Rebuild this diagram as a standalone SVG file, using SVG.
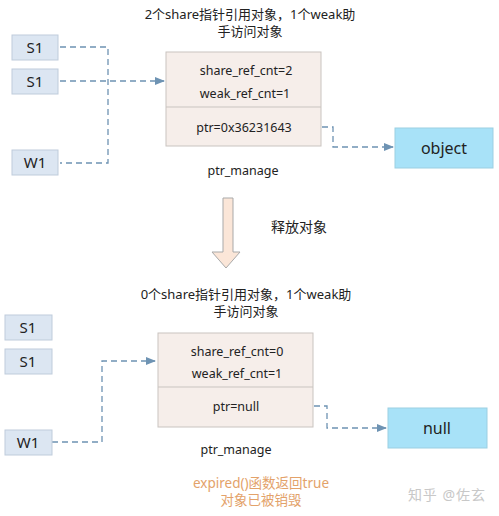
<svg xmlns="http://www.w3.org/2000/svg" width="499" height="516" viewBox="0 0 499 516">
<defs>
<style>
text{font-family:"Noto Sans","Noto Sans CJK SC",sans-serif;fill:#222;}
.ptr{fill:#DCE6F2;stroke:#BFCCDB;stroke-width:1;}
.mgr{fill:#F6EEEA;stroke:#C9C4C0;stroke-width:1;}
.tgt{fill:#A8E2F8;stroke:#9CCFE2;stroke-width:1;}
.dash{fill:none;stroke:#6E93B3;stroke-width:1.3;stroke-dasharray:6,4;}
.t{font-size:13px;text-anchor:middle;}
.c{font-size:12.5px;text-anchor:middle;}
.n{font-size:15px;text-anchor:middle;}
.o{font-size:13.5px;text-anchor:middle;fill:#E3A26A;}
</style>
<marker id="ah" markerWidth="10" markerHeight="8" refX="9" refY="4" orient="auto" markerUnits="userSpaceOnUse">
<path d="M0,0 L10,4 L0,8 Z" fill="#6E93B3"/>
</marker>
</defs>
<rect width="499" height="516" fill="#fff"/>

<text class="t" x="250" y="19">2个share指针引用对象，1个weak助</text>
<text class="t" x="250" y="36">手访问对象</text>

<g id="connectors-top">
<path class="dash" d="M60,47 H108 V163 H60"/>
<path class="dash" d="M60,81 H164" marker-end="url(#ah)"/>
<path class="dash" d="M322,127 H333 V147 H393" marker-end="url(#ah)"/>
</g>

<g id="s1a"><rect class="ptr" x="12" y="35" width="46" height="25"/><text class="n" x="35" y="53">S1</text></g>
<g id="s1b"><rect class="ptr" x="12" y="69" width="46" height="25"/><text class="n" x="35" y="87">S1</text></g>
<g id="w1"><rect class="ptr" x="12" y="150" width="46" height="25"/><text class="n" x="35" y="168">W1</text></g>

<g id="mgr-top">
<rect class="mgr" x="166" y="52" width="155" height="94"/>
<line x1="166" y1="107" x2="321" y2="107" stroke="#C9C4C0"/>
<text class="c" x="246" y="75">share_ref_cnt=2</text>
<text class="c" x="245" y="98">weak_ref_cnt=1</text>
<text class="c" x="244" y="132">ptr=0x36231643</text>
<text class="c" x="243" y="175">ptr_manage</text>
</g>

<g id="object">
<rect class="tgt" x="395" y="128" width="98" height="40"/>
<text x="444" y="154" font-size="16" text-anchor="middle">object</text>
</g>

<g id="release-arrow">
<path d="M223,198 H233 V252 H240 L226,268 L212,252 H223 Z" fill="#FBE6D8" stroke="#A9A9A9" stroke-width="1"/>
<text x="299" y="232" font-size="14" text-anchor="middle">释放对象</text>
</g>

<text class="t" x="246" y="299">0个share指针引用对象，1个weak助</text>
<text class="t" x="246" y="316">手访问对象</text>

<g id="connectors-bottom">
<path class="dash" d="M52,442 H102 V361 H155" marker-end="url(#ah)"/>
<path class="dash" d="M314,406 H327 V428 H386" marker-end="url(#ah)"/>
</g>

<g id="s1c"><rect class="ptr" x="5" y="315" width="47" height="25"/><text class="n" x="28" y="333">S1</text></g>
<g id="s1d"><rect class="ptr" x="5" y="349" width="47" height="25"/><text class="n" x="28" y="367">S1</text></g>
<g id="w1b"><rect class="ptr" x="5" y="430" width="47" height="25"/><text class="n" x="28" y="448">W1</text></g>

<g id="mgr-bottom">
<rect class="mgr" x="158" y="333" width="155" height="94"/>
<line x1="158" y1="387" x2="313" y2="387" stroke="#C9C4C0"/>
<text class="c" x="237" y="356">share_ref_cnt=0</text>
<text class="c" x="237" y="378">weak_ref_cnt=1</text>
<text class="c" x="236" y="411">ptr=null</text>
<text class="c" x="236" y="454">ptr_manage</text>
</g>

<g id="null">
<rect class="tgt" x="388" y="408" width="99" height="40"/>
<text x="437" y="434" font-size="16" text-anchor="middle">null</text>
</g>

<text class="o" x="261" y="488">expired()函数返回true</text>
<text class="o" x="261" y="505">对象已被销毁</text>

<text x="447" y="500" font-size="14" text-anchor="middle" letter-spacing="1" style="fill:#C8C8C8">知乎 @佐玄</text>
</svg>
